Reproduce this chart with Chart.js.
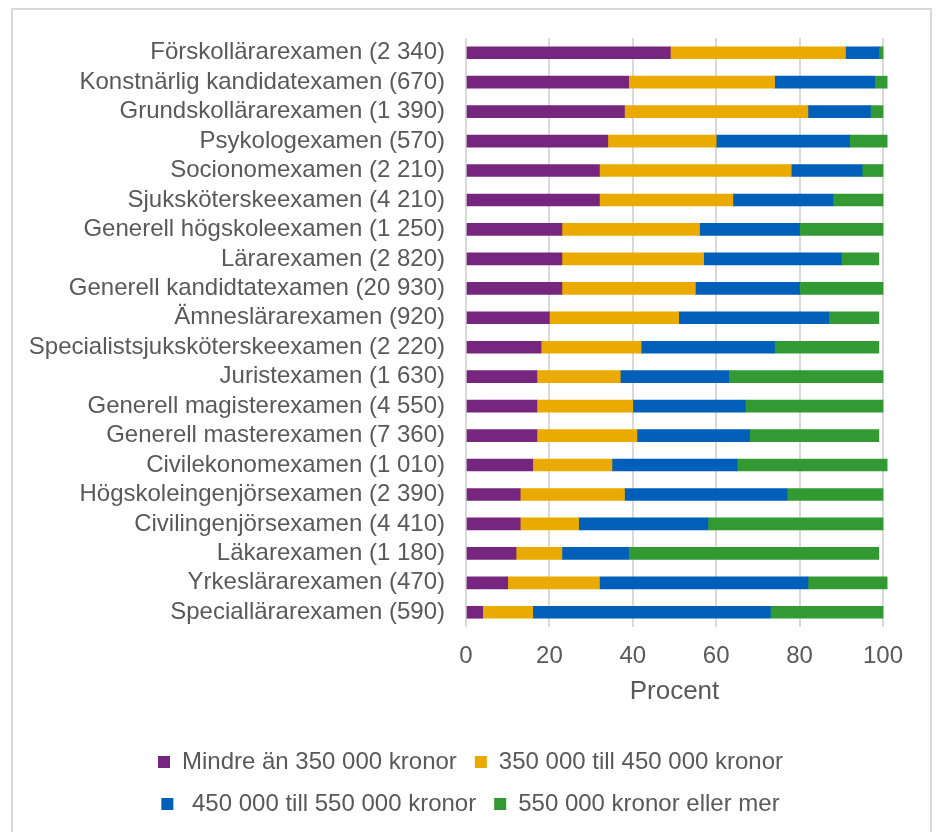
<!DOCTYPE html>
<html>
<head>
<meta charset="utf-8">
<script src="https://cdn.jsdelivr.net/npm/chart.js@4"></script>
<style>
  html, body { margin: 0; padding: 0; background: #ffffff; overflow: hidden; }
  #wrap { position: relative; width: 936px; height: 832px; }
  #frame { position: absolute; left: 11px; top: 8px; width: 921px; height: 900px;
           border: 2px solid #d9d9d9; box-sizing: border-box; pointer-events: none; }
  canvas { position: absolute; left: 0; top: 0; }
</style>
</head>
<body>
<div id="wrap">
  <div id="frame"></div>
  <canvas id="c" width="936" height="832"></canvas>
</div>
<script>
const categories = [
  "Förskollärarexamen (2 340)",
  "Konstnärlig kandidatexamen (670)",
  "Grundskollärarexamen (1 390)",
  "Psykologexamen (570)",
  "Socionomexamen (2 210)",
  "Sjuksköterskeexamen (4 210)",
  "Generell högskoleexamen (1 250)",
  "Lärarexamen (2 820)",
  "Generell kandidtatexamen (20 930)",
  "Ämneslärarexamen (920)",
  "Specialistsjuksköterskeexamen (2 220)",
  "Juristexamen (1 630)",
  "Generell magisterexamen (4 550)",
  "Generell masterexamen (7 360)",
  "Civilekonomexamen (1 010)",
  "Högskoleingenjörsexamen (2 390)",
  "Civilingenjörsexamen (4 410)",
  "Läkarexamen (1 180)",
  "Yrkeslärarexamen (470)",
  "Speciallärarexamen (590)"
];
const seriesNames = [
  "Mindre än 350 000 kronor",
  "350 000 till 450 000 kronor",
  " 450 000 till 550 000 kronor",
  "550 000 kronor eller mer"
];
const under350 = [49, 39, 38, 34, 32, 32, 23, 23, 23, 20, 18, 17, 17, 17, 16, 13, 13, 12, 10, 4];
const from350to450 = [42, 35, 44, 26, 46, 32, 33, 34, 32, 31, 24, 20, 23, 24, 19, 25, 14, 11, 22, 12];
const from450to550 = [8, 24, 15, 32, 17, 24, 24, 33, 25, 36, 32, 26, 27, 27, 30, 39, 31, 16, 50, 57];
const over550 = [1, 3, 3, 9, 5, 12, 20, 9, 20, 12, 25, 37, 33, 31, 36, 23, 42, 60, 19, 27];
const xTicks = [0, 20, 40, 60, 80, 100];
const xTitle = "Procent";

const colors = ["#76267f", "#eaaa00", "#0060b9", "#339933"];
const seriesValues = [under350, from350to450, from450to550, over550];

const FONT = "'Liberation Sans', Arial, sans-serif";
const TEXT = "#595959";

const legendShift = {
  id: 'legendShift',
  afterLayout(chart) {
    if (chart.legend) { chart.legend.left = 58; }
  }
};

new Chart(document.getElementById('c'), {
  type: 'bar',
  data: {
    labels: categories,
    datasets: seriesValues.map((vals, i) => ({
      label: seriesNames[i],
      data: vals,
      backgroundColor: colors[i],
      borderWidth: 0,
      barThickness: 12,
      clip: false
    }))
  },
  plugins: [legendShift],
  options: {
    indexAxis: 'y',
    responsive: false,
    animation: false,
    devicePixelRatio: 1,
    layout: { padding: { left: 0, right: 53, top: 38, bottom: 6 } },
    scales: {
      x: {
        stacked: true,
        min: 0,
        max: 100,
        afterBuildTicks: (s) => { s.ticks = xTicks.map(v => ({ value: v })); },
        afterFit: (s) => { s.height = 105; },
        grid: { color: '#d9d9d9', lineWidth: 2, drawTicks: false },
        border: { display: false },
        ticks: { padding: 15, color: TEXT, font: { family: FONT, size: 24 } },
        title: { display: true, text: xTitle, color: TEXT,
                 font: { family: FONT, size: 26 }, padding: { top: 0, bottom: 25 } }
      },
      y: {
        stacked: true,
        afterFit: (s) => { s.width = 466; },
        grid: { display: false, drawTicks: false },
        border: { display: false },
        ticks: { padding: 21, color: TEXT, font: { family: FONT, size: 24 }, autoSkip: false }
      }
    },
    plugins: {
      legend: {
        position: 'bottom',
        labels: {
          boxWidth: 12, boxHeight: 12, padding: 18,
          color: TEXT, font: { family: FONT, size: 24 }
        }
      },
      tooltip: { enabled: false }
    }
  }
});
</script>
</body>
</html>
